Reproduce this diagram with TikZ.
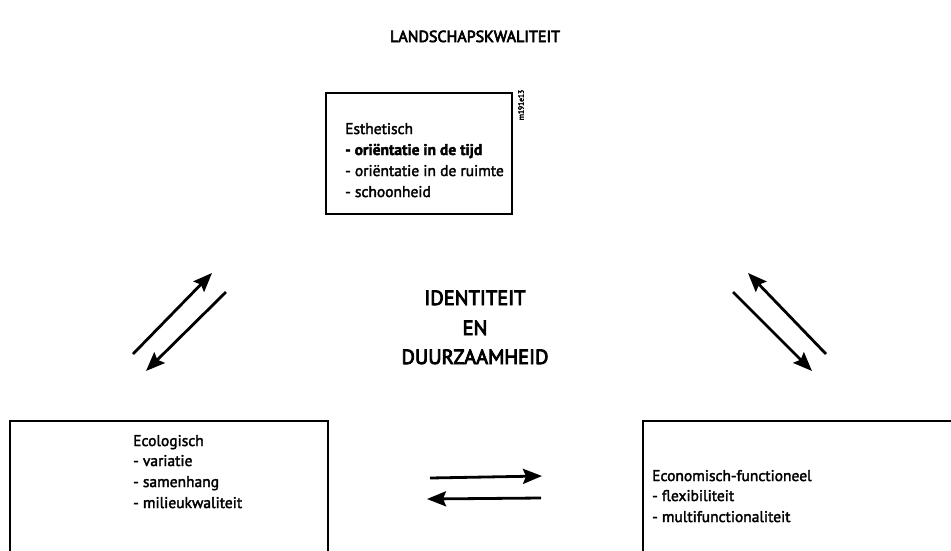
\documentclass[tikz,border=0pt]{standalone}
\usepackage{fontspec}
\setmainfont{PT Sans}
\newfontfamily\heavy{PT Sans}[FakeBold=4]
\newfontfamily\med{PT Sans}[FakeBold=2.2]
\newfontfamily\boldline{PT Sans Bold}[FakeBold=2.5]
\usetikzlibrary{arrows.meta}
\begin{document}
\begin{tikzpicture}[x=1pt,y=-1pt,
  boxline/.style={draw, line width=1.8pt},
  body/.style={font=\med\fontsize{15.5}{20}\selectfont, anchor=base west, inner sep=0pt},
  big/.style={font=\heavy\fontsize{20.5}{24}\selectfont, anchor=base, inner sep=0pt},
  arr/.style={line width=2.8pt, -{Stealth[length=19pt,width=15pt,inset=3pt]}}]
\useasboundingbox (0,0) rectangle (951,550);
\clip (0,0) rectangle (951,550);
\node[font=\heavy\fontsize{16}{20}\selectfont, anchor=base, inner sep=0pt] (title) at (475,42) {LANDSCHAPSKWALITEIT};
% top box
\draw[boxline] (326,93) rectangle (512,214);
\node[body] (e1) at (345,134) {Esthetisch};
\node[body, font=\boldline\fontsize{15.5}{20}\selectfont] (e2) at (345,155) {- oriëntatie in de tijd};
\node[body] (e3) at (345,176) {- oriëntatie in de ruimte};
\node[body] (e4) at (345,197) {- schoonheid};
\node[rotate=90, font=\heavy\fontsize{7.5}{8}\selectfont, inner sep=0pt] (code) at (521,105) {m191e13};
% centre
\node[big] (c1) at (475,305) {IDENTITEIT};
\node[big] (c2) at (475,335) {EN};
\node[big] (c3) at (475,364) {DUURZAAMHEID};
% bottom boxes
\draw[boxline] (10,560) -- (10,421) -- (328,421) -- (328,560);
\node[body] (l1) at (133,446) {Ecologisch};
\node[body] (l2) at (133,466) {- variatie};
\node[body] (l3) at (133,487) {- samenhang};
\node[body] (l4) at (133,508) {- milieukwaliteit};
\draw[boxline] (643,560) -- (643,421) -- (960,421);
\node[body] (r1) at (652,481) {Economisch-functioneel};
\node[body] (r2) at (652,501) {- flexibiliteit};
\node[body] (r3) at (652,522) {- multifunctionaliteit};
% arrows
\coordinate (l1s) at (133,354); \coordinate (l1e) at (212,273);
\coordinate (l2s) at (226,292); \coordinate (l2e) at (146,371);
\coordinate (r1s) at (826,354); \coordinate (r1e) at (748,273);
\coordinate (r2s) at (733,292); \coordinate (r2e) at (812,371);
\coordinate (b1s) at (430,478); \coordinate (b1e) at (542,476);
\coordinate (b2s) at (541,498); \coordinate (b2e) at (427,499);
\draw[arr] (l1s) -- (l1e);
\draw[arr] (l2s) -- (l2e);
\draw[arr] (r1s) -- (r1e);
\draw[arr] (r2s) -- (r2e);
\draw[arr] (b1s) -- (b1e);
\draw[arr] (b2s) -- (b2e);
\end{tikzpicture}
\end{document}
